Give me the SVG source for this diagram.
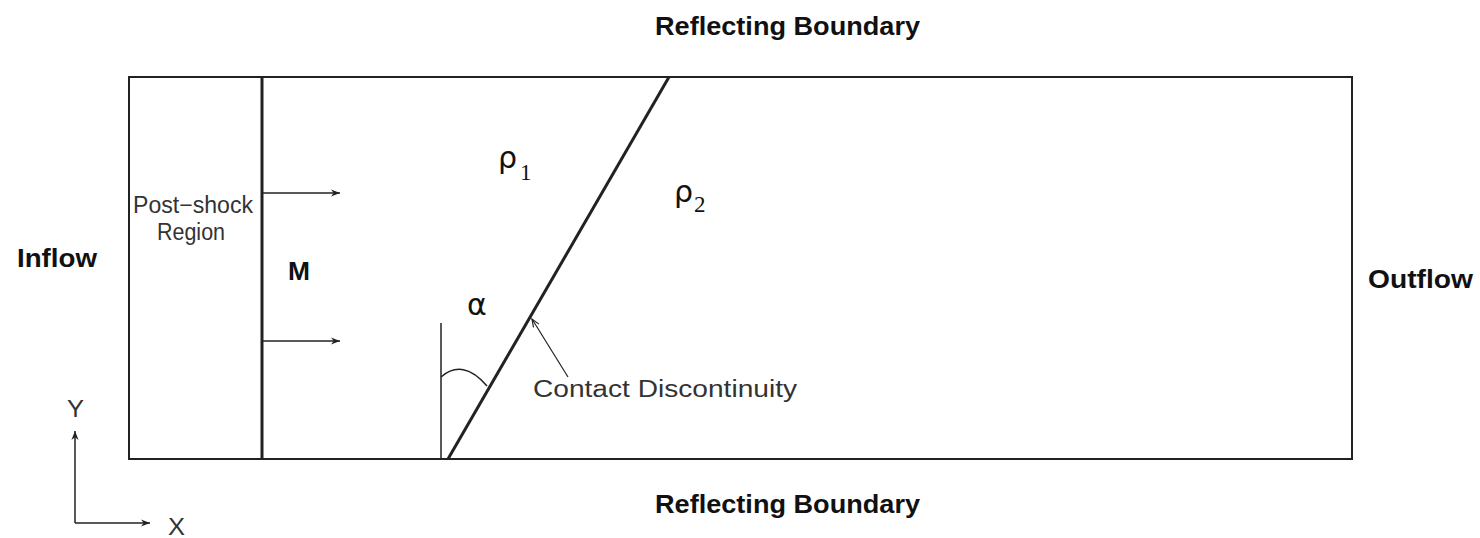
<svg xmlns="http://www.w3.org/2000/svg" width="1480" height="538" viewBox="0 0 1480 538">
<style>
.lbl{font-family:"Liberation Sans",Arial,sans-serif;font-weight:bold;font-size:26px;fill:#111}
.thin{font-family:"Liberation Sans",Arial,sans-serif;font-size:23px;fill:#333}
.greek{font-family:"DejaVu Sans",sans-serif;font-size:30px;fill:#111}
.sub{font-family:"Liberation Serif",serif;font-size:23px;fill:#111}
.ln{stroke:#222;fill:none}
</style>
<defs>
<marker id="ah" viewBox="0 0 10 10" refX="10" refY="5" markerWidth="13" markerHeight="9" markerUnits="userSpaceOnUse" orient="auto">
<path d="M0,1 L10,5 L0,9 L3,5 Z" fill="#222"/>
</marker>
<marker id="ah2" viewBox="0 0 10 10" refX="10" refY="5" markerWidth="12" markerHeight="8" markerUnits="userSpaceOnUse" orient="auto">
<path d="M0,1 L10,5 L0,9" fill="none" stroke="#222" stroke-width="1.5"/>
</marker>
</defs>
<g id="domain">
<rect x="129" y="77" width="1223" height="382" class="ln" stroke-width="2"/>
</g>
<g id="shock">
<line x1="262" y1="77" x2="262" y2="459" class="ln" stroke-width="3"/>
<text class="thin" x="133" y="213" textLength="120" lengthAdjust="spacingAndGlyphs">Post−shock</text>
<text class="thin" x="157" y="240" textLength="68" lengthAdjust="spacingAndGlyphs">Region</text>
<text class="lbl" x="288" y="280" textLength="22" lengthAdjust="spacingAndGlyphs">M</text>
</g>
<g id="contact">
<line x1="448" y1="459" x2="669" y2="77" class="ln" stroke-width="3"/>
<line x1="441" y1="323" x2="441" y2="459" class="ln" stroke-width="1.5"/>
<path d="M441,377 Q463,358 487,386" class="ln" stroke-width="1.5"/>
<text class="greek" x="467" y="315" font-size="35">α</text>
<text class="greek" x="498" y="168">ρ<tspan class="sub" dx="3" dy="12">1</tspan></text>
<text class="greek" x="674" y="202">ρ<tspan class="sub" dx="1" dy="10">2</tspan></text>
<text class="thin" x="533" y="397" font-size="25" textLength="264" lengthAdjust="spacingAndGlyphs">Contact Discontinuity</text>
</g>
<g id="connectors">
<line x1="262" y1="193" x2="340" y2="193" class="ln" stroke-width="1.5" marker-end="url(#ah)"/>
<line x1="262" y1="341" x2="340" y2="341" class="ln" stroke-width="1.5" marker-end="url(#ah)"/>
<line x1="568" y1="377" x2="532" y2="319" class="ln" stroke-width="1.2" marker-end="url(#ah2)"/>
<line x1="75" y1="523" x2="75" y2="431" class="ln" stroke-width="1.5" marker-end="url(#ah)"/>
<line x1="75" y1="523" x2="150" y2="523" class="ln" stroke-width="1.5" marker-end="url(#ah)"/>
</g>
<g id="labels">
<text class="lbl" x="655" y="35" textLength="265" lengthAdjust="spacingAndGlyphs">Reflecting Boundary</text>
<text class="lbl" x="655" y="513" textLength="265" lengthAdjust="spacingAndGlyphs">Reflecting Boundary</text>
<text class="lbl" x="17" y="267" textLength="80" lengthAdjust="spacingAndGlyphs">Inflow</text>
<text class="lbl" x="1368" y="288" textLength="105" lengthAdjust="spacingAndGlyphs">Outflow</text>
<text class="thin" x="67" y="417" font-size="25" textLength="17" lengthAdjust="spacingAndGlyphs">Y</text>
<text class="thin" x="168" y="535" font-size="25" textLength="17" lengthAdjust="spacingAndGlyphs">X</text>
</g>
</svg>
